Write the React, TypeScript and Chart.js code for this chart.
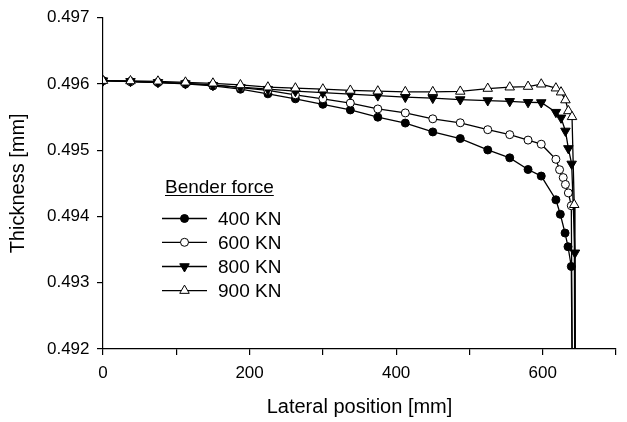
import React, { useEffect, useRef } from "react";
import { Chart, registerables } from "chart.js";

Chart.register(...registerables);

const FONT = "'Liberation Sans', Arial, Helvetica, sans-serif";

// Lateral position [mm] for each series
const x400 = [0, 37.5, 75, 112.5, 150, 187.5, 225, 262.5, 300, 337.5, 375, 412.5, 450, 487.5, 525, 555, 580, 598, 618, 624, 630.5, 634.5, 639, 641];
const x600 = [0, 37.5, 75, 112.5, 150, 187.5, 225, 262.5, 300, 337.5, 375, 412.5, 450, 487.5, 525, 555, 580, 598, 618, 623, 628, 631, 635, 639, 641];
const x800 = [0, 37.5, 75, 112.5, 150, 187.5, 225, 262.5, 300, 337.5, 375, 412.5, 450, 487.5, 525, 555, 580, 598, 618, 625, 631, 635, 639.5, 644, 645];
const x900 = [0, 37.5, 75, 112.5, 150, 187.5, 225, 262.5, 300, 337.5, 375, 412.5, 450, 487.5, 525, 555, 580, 598, 618, 625, 631, 635, 640, 643, 644];

// Thickness [mm]
const y400 = [0.49605, 0.496036, 0.496021, 0.496, 0.49597, 0.495921, 0.495851, 0.495776, 0.495693, 0.495608, 0.495499, 0.49541, 0.495276, 0.495176, 0.495004, 0.494885, 0.494709, 0.49461, 0.494252, 0.494033, 0.49375, 0.493544, 0.493246, 0.4905];
const y600 = [0.49605, 0.496036, 0.496025, 0.49601, 0.495985, 0.495946, 0.495902, 0.495836, 0.495776, 0.495712, 0.495623, 0.495563, 0.495474, 0.495414, 0.49531, 0.495235, 0.495153, 0.495091, 0.494863, 0.494706, 0.494587, 0.494483, 0.494356, 0.494162, 0.4905];
const y800 = [0.49605, 0.49604, 0.496025, 0.496006, 0.495981, 0.495951, 0.495921, 0.495891, 0.495869, 0.495846, 0.495824, 0.495802, 0.495787, 0.495765, 0.49575, 0.495738, 0.495723, 0.49572, 0.495574, 0.495489, 0.495291, 0.495027, 0.494793, 0.493452, 0.4905];
const y900 = [0.49605, 0.496045, 0.49604, 0.496025, 0.49601, 0.495985, 0.495951, 0.495936, 0.495921, 0.495902, 0.495891, 0.495881, 0.495881, 0.495887, 0.495931, 0.495951, 0.495961, 0.495996, 0.495936, 0.495876, 0.495757, 0.495593, 0.495504, 0.494177, 0.4905];

const seriesLabels = ["400 KN", "600 KN", "800 KN", "900 KN"];
const legendTitle = "Bender force";
const xTitle = "Lateral position [mm]";
const yTitle = "Thickness [mm]";

const toPts = (xs: number[], ys: number[]) => xs.map((x, i) => ({ x, y: ys[i] }));

const styles = [
  { style: "circle", fill: "#000", rot: 0, r: 4 },
  { style: "circle", fill: "#fff", rot: 0, r: 4 },
  { style: "triangle", fill: "#000", rot: 180, r: 5.5 },
  { style: "triangle", fill: "#fff", rot: 0, r: 5.5 },
];

function drawMarker(ctx: CanvasRenderingContext2D, s: any, x: number, y: number) {
  ctx.save();
  ctx.beginPath();
  if (s.style === "circle") {
    ctx.arc(x, y, s.r, 0, Math.PI * 2);
  } else {
    let rad = (s.rot * Math.PI) / 180;
    ctx.moveTo(x + Math.sin(rad) * s.r, y - Math.cos(rad) * s.r);
    rad += (2 * Math.PI) / 3;
    ctx.lineTo(x + Math.sin(rad) * s.r, y - Math.cos(rad) * s.r);
    rad += (2 * Math.PI) / 3;
    ctx.lineTo(x + Math.sin(rad) * s.r, y - Math.cos(rad) * s.r);
    ctx.closePath();
  }
  ctx.fillStyle = s.fill;
  ctx.fill();
  ctx.lineWidth = 1;
  ctx.strokeStyle = "#000";
  ctx.stroke();
  ctx.restore();
}

const legendPlugin = {
  id: "customLegend",
  afterDraw(chart: any) {
    const ctx = chart.ctx as CanvasRenderingContext2D;
    ctx.save();
    ctx.fillStyle = "#000";
    ctx.font = `19px ${FONT}`;
    ctx.textBaseline = "alphabetic";
    ctx.textAlign = "left";
    const tx = 165;
    const ty = 193;
    ctx.fillText(legendTitle, tx, ty);
    const w = ctx.measureText(legendTitle).width;
    ctx.beginPath();
    ctx.strokeStyle = "#000";
    ctx.lineWidth = 1.2;
    ctx.moveTo(tx, ty + 2.5);
    ctx.lineTo(tx + w, ty + 2.5);
    ctx.stroke();
    const rows = [218.5, 242.3, 266.5, 290.6];
    rows.forEach((ry, i) => {
      ctx.beginPath();
      ctx.lineWidth = 1.3;
      ctx.strokeStyle = "#000";
      ctx.moveTo(162, ry);
      ctx.lineTo(207, ry);
      ctx.stroke();
      drawMarker(ctx, styles[i], 184.5, ry);
      ctx.fillStyle = "#000";
      ctx.textBaseline = "middle";
      ctx.fillText(seriesLabels[i], 218, ry + 1);
    });
    ctx.restore();
  },
};

export default function App() {
  const ref = useRef<HTMLCanvasElement | null>(null);
  useEffect(() => {
    if (!ref.current) return;
    const xsAll = [x400, x600, x800, x900];
    const ysAll = [y400, y600, y800, y900];
    const datasets = xsAll.map((xs, i) => {
      const n = xs.length;
      return {
        label: seriesLabels[i],
        data: toPts(xs, ysAll[i]),
        borderColor: "#000",
        borderWidth: 1.3,
        pointStyle: styles[i].style,
        pointRotation: styles[i].rot,
        pointRadius: xs.map((_, k) => (k === n - 1 ? 0 : styles[i].r)),
        pointBackgroundColor: styles[i].fill,
        pointBorderColor: "#000",
        pointBorderWidth: 1,
        tension: 0,
        fill: false,
        order: 3 - i,
      };
    });
    const chart = new Chart(ref.current, {
      type: "line",
      data: { datasets } as any,
      plugins: [legendPlugin],
      options: {
        animation: false,
        responsive: false,
        devicePixelRatio: 1,
        events: [],
        layout: { padding: { top: 14, right: 11, left: 0, bottom: 0 } },
        plugins: { legend: { display: false }, tooltip: { enabled: false } },
        scales: {
          x: {
            type: "linear",
            min: 0,
            max: 700,
            afterFit: (s: any) => {
              s.height = 73;
            },
            border: { display: true, color: "#000", width: 1.2 },
            grid: { display: true, drawOnChartArea: false, drawTicks: true, tickLength: 6, color: "#000", lineWidth: 1.2 },
            ticks: {
              stepSize: 100,
              autoSkip: false,
              maxRotation: 0,
              padding: 8,
              color: "#000",
              font: { family: FONT, size: 17 },
              callback: (v: any) => (Math.round(v) % 200 === 0 ? String(Math.round(v)) : ""),
            },
            title: {
              display: true,
              text: xTitle,
              color: "#000",
              font: { family: FONT, size: 20 },
              padding: { top: 0, bottom: 3 },
            },
          },
          y: {
            type: "linear",
            min: 0.492,
            max: 0.497,
            afterFit: (s: any) => {
              s.width = 103;
            },
            border: { display: true, color: "#000", width: 1.2 },
            grid: { display: true, drawOnChartArea: false, drawTicks: true, tickLength: 6, color: "#000", lineWidth: 1.2 },
            ticks: {
              stepSize: 0.001,
              autoSkip: false,
              padding: 7.5,
              color: "#000",
              font: { family: FONT, size: 17 },
              callback: (v: any) => Number(v).toFixed(3),
            },
            title: {
              display: true,
              text: yTitle,
              color: "#000",
              font: { family: FONT, size: 20 },
              padding: { top: 6.5, bottom: 0 },
            },
          },
        },
      } as any,
    });
    return () => chart.destroy();
  }, []);
  return (
    <div style={{ position: "absolute", left: 0, top: 0, width: 627, height: 422, background: "#fff" }}>
      <canvas ref={ref} width={627} height={422} style={{ display: "block", width: 627, height: 422 }} />
    </div>
  );
}
